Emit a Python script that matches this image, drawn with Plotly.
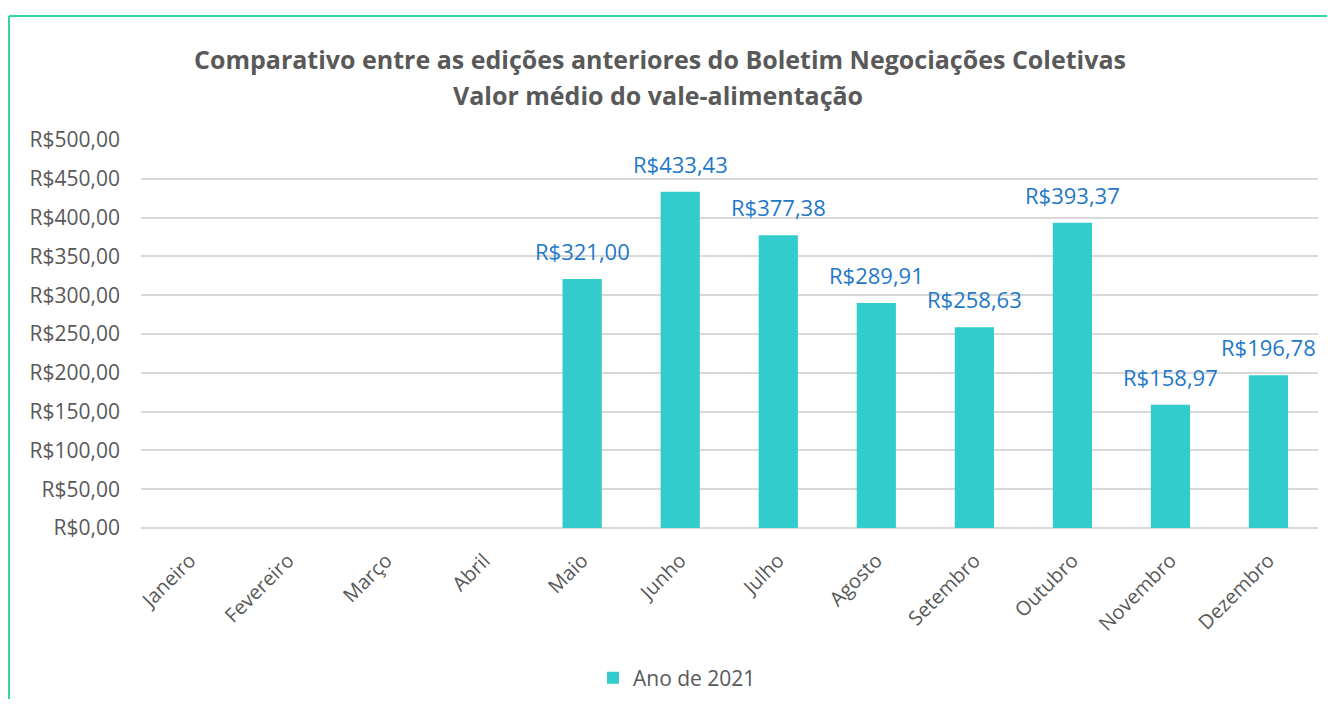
import plotly.graph_objects as go

months = ["Janeiro", "Fevereiro", "Março", "Abril", "Maio", "Junho", "Julho",
          "Agosto", "Setembro", "Outubro", "Novembro", "Dezembro"]
values_2021 = [None, None, None, None, 321.00, 433.43, 377.38, 289.91, 258.63, 393.37, 158.97, 196.78]
series_name = "Ano de 2021"
y_ticks = [0, 50, 100, 150, 200, 250, 300, 350, 400, 450, 500]
title_line1 = "Comparativo entre as edições anteriores do Boletim Negociações Coletivas"
title_line2 = "Valor médio do vale-alimentação"


def brl(v):
    return "R$" + f"{v:.2f}".replace(".", ",")


# page has an 8px body margin; figure sized so page = 1335x707
W, H = 1335 - 16, 707 - 16
L, R, T, B = 133, 9, 132, 171
pw, ph = W - L - R, H - T - B


def px_x(px):
    return (px - 141) / pw


def px_y(py):
    return (528 - py) / ph


FONT = "Open Sans"
GRAY = "#595959"
BLUE = "#1F78C8"

fig = go.Figure()
fig.add_trace(go.Bar(
    x=months, y=values_2021, name=series_name,
    marker=dict(color="#33CCCC", line=dict(width=0)),
    showlegend=True,
))

# data labels
for m, v in zip(months, values_2021):
    if v is None:
        continue
    fig.add_annotation(x=m, y=v, xref="x", yref="y", text=brl(v), showarrow=False,
                       yanchor="middle", xanchor="center", yshift=28,
                       font=dict(family=FONT, size=22, color=BLUE))

fig.update_layout(
    width=W, height=H,
    margin=dict(l=L, r=R, t=T, b=B, autoexpand=False),
    paper_bgcolor="white", plot_bgcolor="white",
    bargap=0.6,
    font=dict(family=FONT, color=GRAY),
    xaxis=dict(type="category", tickangle=-45, tickfont=dict(size=20, color=GRAY),
               showgrid=False, showline=False, ticks="outside", ticklen=12,
               tickcolor="rgba(0,0,0,0)", fixedrange=True, automargin=False),
    yaxis=dict(range=[0, 500], tickvals=y_ticks, ticktext=[brl(v) for v in y_ticks],
               tickfont=dict(size=21, color=GRAY), showgrid=True, gridcolor="#D9D9D9",
               gridwidth=1.5, zeroline=True, zerolinecolor="#D9D9D9", zerolinewidth=1.5,
               showline=False, ticks="", ticklabelstandoff=20, automargin=False),
    legend=dict(orientation="h", x=px_x(677), xanchor="center", y=px_y(678), yanchor="middle",
                font=dict(size=21, color=GRAY), itemwidth=30),
    showlegend=True,
)

fig.add_annotation(text="<b>" + title_line1 + "</b>", xref="paper", yref="paper",
                   x=px_x(660), y=px_y(59), xanchor="center", yanchor="middle",
                   showarrow=False, font=dict(family=FONT, size=25, color=GRAY))
fig.add_annotation(text="<b>" + title_line2 + "</b>", xref="paper", yref="paper",
                   x=px_x(658), y=px_y(95), xanchor="center", yanchor="middle",
                   showarrow=False, font=dict(family=FONT, size=25, color=GRAY))

BORDER = "#2ED6A3"
fig.add_shape(type="line", xref="paper", yref="paper", x0=px_x(9), x1=px_x(1340),
              y0=px_y(16), y1=px_y(16), line=dict(color=BORDER, width=2))
fig.add_shape(type="line", xref="paper", yref="paper", x0=px_x(9), x1=px_x(9),
              y0=px_y(16), y1=px_y(710), line=dict(color=BORDER, width=2))

fig.write_html("out.html")
